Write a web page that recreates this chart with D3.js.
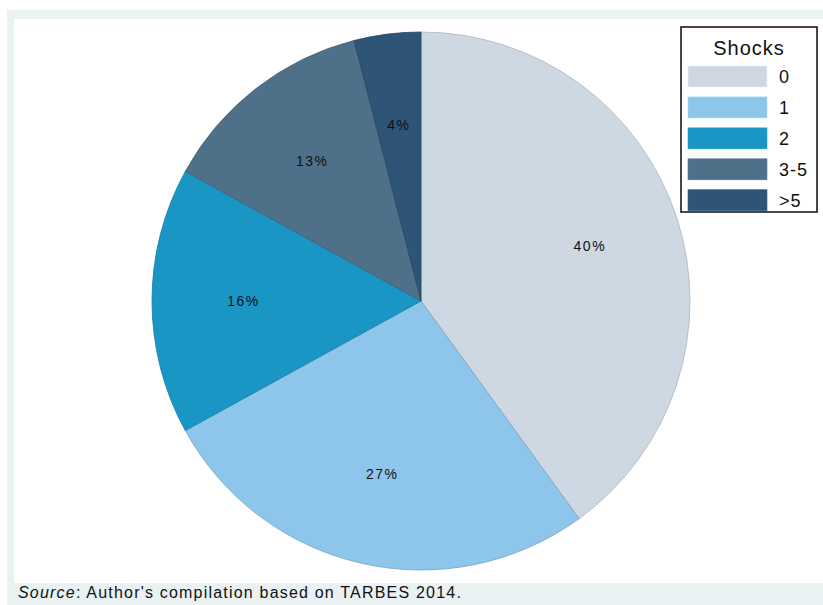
<!DOCTYPE html>
<html>
<head>
<meta charset="utf-8">
<script src="https://cdn.jsdelivr.net/npm/d3@7"></script>
<style>
  html, body { margin: 0; padding: 0; background: #ffffff; }
  svg { display: block; font-family: "Liberation Sans", Arial, sans-serif; }
</style>
</head>
<body>
<svg id="chart" width="823" height="605"></svg>
<script>
// Share of households by number of shocks experienced
const categories = ["0", "1", "2", "3-5", ">5"];
const shares = [40, 27, 16, 13, 4];
const colors = ["#cdd8e3", "#8ec5eb", "#1996c4", "#4e7189", "#2e5478"];
const legendTitle = "Shocks";

const svg = d3.select("#chart");

// outer frame and plot region
svg.append("rect").attr("x", 7).attr("y", 10).attr("width", 816).attr("height", 595).attr("fill", "#e9f1f3");
svg.append("rect").attr("x", 14).attr("y", 19).attr("width", 809).attr("height", 564).attr("fill", "#ffffff");

const cx = 421, cy = 301, radius = 269;

const pie = d3.pie().sort(null).value(d => d.value);
const arcs = pie(categories.map((c, i) => ({ cat: c, value: shares[i], color: colors[i] })));
const arc = d3.arc().innerRadius(0).outerRadius(radius);
const labelArc = d3.arc().innerRadius(radius * 0.66).outerRadius(radius * 0.66);

const g = svg.append("g").attr("transform", `translate(${cx},${cy})`);

g.selectAll("path.slice")
  .data(arcs)
  .join("path")
  .attr("class", "slice")
  .attr("d", arc)
  .attr("fill", d => d.data.color)
  .attr("stroke", d => d3.color(d.data.color).darker(0.5))
  .attr("stroke-width", 0.8);

g.selectAll("text.pct")
  .data(arcs)
  .join("text")
  .attr("class", "pct")
  .attr("transform", d => `translate(${labelArc.centroid(d)})`)
  .attr("text-anchor", "middle")
  .attr("dy", "0.35em")
  .attr("font-size", 14)
  .attr("letter-spacing", 1.5)
  .attr("fill", "#111111")
  .text(d => d.data.value + "%");

// legend
const lg = svg.append("g");
lg.append("rect")
  .attr("x", 681).attr("y", 27).attr("width", 136).attr("height", 185)
  .attr("fill", "#ffffff").attr("stroke", "#1a1a1a").attr("stroke-width", 1.6);
lg.append("text")
  .attr("x", 749).attr("y", 55)
  .attr("text-anchor", "middle")
  .attr("font-size", 20)
  .attr("letter-spacing", 1)
  .attr("fill", "#111111")
  .text(legendTitle);

const rowY = d3.scaleBand().domain(categories).range([66, 212]).paddingInner(0.28).paddingOuter(0);
categories.forEach((c, i) => {
  lg.append("rect")
    .attr("x", 688).attr("y", rowY(c))
    .attr("width", 79).attr("height", 21)
    .attr("fill", colors[i])
    .attr("stroke", d3.color(colors[i]).brighter(0.3))
    .attr("stroke-width", 0.6);
  lg.append("text")
    .attr("x", 779).attr("y", rowY(c) + 10.5)
    .attr("dy", "0.36em")
    .attr("font-size", 18)
    .attr("letter-spacing", 1)
    .attr("fill", "#111111")
    .text(c);
});

// source note
const note = svg.append("text").attr("x", 18).attr("y", 598).attr("font-size", 16).attr("letter-spacing", 1.2).attr("fill", "#111111");
note.append("tspan").attr("font-style", "italic").text("Source");
note.append("tspan").text(": Author's compilation based on TARBES 2014.");
</script>
</body>
</html>
